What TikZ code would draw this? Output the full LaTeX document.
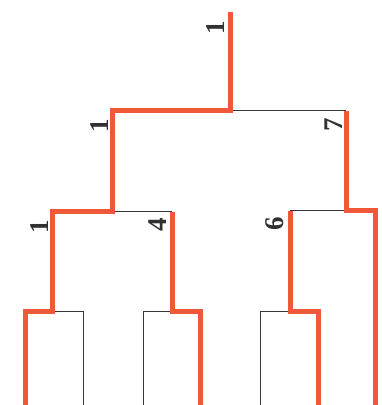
\documentclass[tikz,border=0pt]{standalone}
\usepackage{fontspec}
\setmainfont{Liberation Serif}
\definecolor{branchred}{RGB}{240,88,58}
\definecolor{branchgray}{RGB}{55,55,55}
\begin{document}
\begin{tikzpicture}[x=1pt,y=1pt,
  hot/.style={draw=branchred,line width=5pt,line join=miter,line cap=butt},
  cold/.style={draw=branchgray,line width=1pt},
  lbl/.style={font=\fontsize{27}{27}\selectfont\bfseries,text=branchgray!90!black,rotate=90,inner sep=0pt}]
\useasboundingbox (0,0) rectangle (382,405);
% leaves (bottom edge)
\coordinate (l1) at (25,0);
\coordinate (l2) at (83,0);
\coordinate (l3) at (143,0);
\coordinate (l4) at (200,0);
\coordinate (l5) at (260,0);
\coordinate (l6) at (318,0);
\coordinate (l7) at (375,0);
% junctions
\coordinate (a) at (52,93);
\coordinate (b) at (172,93);
\coordinate (c) at (290,93);
\coordinate (d) at (112,193);
\coordinate (e) at (346,194);
\coordinate (r) at (230,294);
\coordinate (top) at (230,393);
% thin branches
\draw[cold] (r) -- (r -| e);
\draw[cold] (d -| b) -- (d);
\draw[cold] (e -| c) -- (e);
\draw[cold] (a) -- (a -| l2) -- (l2);
\draw[cold] (b) -- (b -| l3) -- (l3);
\draw[cold] (c) -- (c -| l5) -- (l5);
% highlighted path
\draw[hot] (top) -- (r) -- (r -| d) -- (d) -- (d -| a) -- (a) -- (a -| l1) -- (l1);
\draw[hot] (d -| b) -- (b) -- (b -| l4) -- (l4);
\draw[hot] (r -| e) -- (e) -- (e -| l7) -- (l7);
\draw[hot] (e -| c) -- (c) -- (c -| l6) -- (l6);
% labels
\node[lbl] (n1) at (216,377) {1};
\node[lbl] (n2) at (100,279) {1};
\node[lbl] (n3) at (40,178) {1};
\node[lbl] (n4) at (158,180) {4};
\node[lbl] (n6) at (275,181) {6};
\node[lbl] (n7) at (334,280) {7};
\end{tikzpicture}
\end{document}
